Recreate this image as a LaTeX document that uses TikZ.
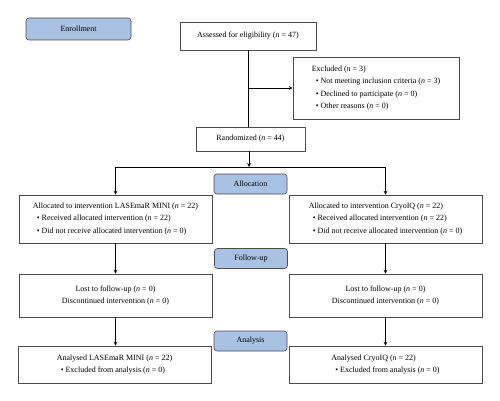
\documentclass[tikz,border=0pt]{standalone}
\usepackage{fontspec}
\setmainfont{Liberation Serif}
\definecolor{stagefill}{HTML}{A9C1E3}
\tikzset{
  stagebox/.style={draw=black!70, fill=stagefill, rounded corners=3pt, line width=0.6pt, minimum width=73pt, minimum height=20pt, inner sep=0pt, font=\fontsize{8}{9}\selectfont},
  infobox/.style={draw=black!70, line width=0.6pt, inner sep=0pt, align=left, font=\fontsize{8}{12.5}\selectfont},
  flow/.style={line width=0.8pt}
}
\newcommand{\bul}{\hspace*{4pt}\textbullet\ }
\begin{document}
\begin{tikzpicture}[x=1pt, y=-1pt, >=stealth]
    \useasboundingbox (0,0) rectangle (500,401);

    \node[stagebox, minimum width=105pt, minimum height=22pt] (enroll) at (78.5,29) {Enrollment};
    \node[infobox, minimum width=136pt, minimum height=28pt] (assess) at (248,36) {Assessed for eligibility (\textit{n} = 47)};
    \node[infobox, minimum width=166pt, minimum height=62pt] (excl) at (376,88) {Excluded (\textit{n} = 3)\\
        \bul Not meeting inclusion criteria (\textit{n} = 3)\\
        \bul Declined to participate (\textit{n} = 0)\\
        \bul Other reasons (\textit{n} = 0)};
    \node[infobox, minimum width=109pt, minimum height=24pt] (rand) at (250.5,139) {Randomized (\textit{n} = 44)};

    \node[stagebox] (alloc) at (250.5,184) {Allocation};
    \node[infobox, minimum width=193pt, minimum height=48pt] (allocL) at (115.5,219) {Allocated to intervention LASEmaR MINI (\textit{n} = 22)\\
        \bul Received allocated intervention (\textit{n} = 22)\\
        \bul Did not receive allocated intervention (\textit{n} = 0)};
    \node[infobox, minimum width=193pt, minimum height=48pt] (allocR) at (385.5,219) {Allocated to intervention CryoIQ (\textit{n} = 22)\\
        \bul Received allocated intervention (\textit{n} = 22)\\
        \bul Did not receive allocated intervention (\textit{n} = 0)};

    \node[stagebox] (follow) at (251,258.5) {Follow-up};
    \node[infobox, align=center, minimum width=193pt, minimum height=43pt] (followL) at (115.5,295.5) {Lost to follow-up (\textit{n} = 0)\\ Discontinued intervention (\textit{n} = 0)};
    \node[infobox, align=center, minimum width=193pt, minimum height=43pt] (followR) at (385.5,295.5) {Lost to follow-up (\textit{n} = 0)\\ Discontinued intervention (\textit{n} = 0)};

    \node[stagebox] (analysis) at (250.5,341) {Analysis};
    \node[infobox, minimum width=193pt, minimum height=37pt] (anL) at (114.5,364.5) {Analysed LASEmaR MINI (\textit{n} = 22)\\
        \bul Excluded from analysis (\textit{n} = 0)};
    \node[infobox, minimum width=193pt, minimum height=37pt] (anR) at (385.5,364.5) {Analysed CryoIQ (\textit{n} = 22)\\
        \bul Excluded from analysis (\textit{n} = 0)};

    \coordinate (split) at (249,167);

    \draw[flow] (assess.south) -- (assess.south |- rand.north);
    \draw[flow, ->] (assess.south |- excl.west) -- (excl.west);
    \draw[flow, ->] (split |- rand.south) -- (split);
    \draw[flow, ->] (split) -| (allocL.north);
    \draw[flow, ->] (split) -| (allocR.north);
    \draw[flow, ->] (allocL) -- (followL);
    \draw[flow, ->] (allocR) -- (followR);
    \draw[flow, ->] (followL) -- (anL.north -| followL);
    \draw[flow, ->] (followR) -- (anR.north -| followR);
\end{tikzpicture}
\end{document}
